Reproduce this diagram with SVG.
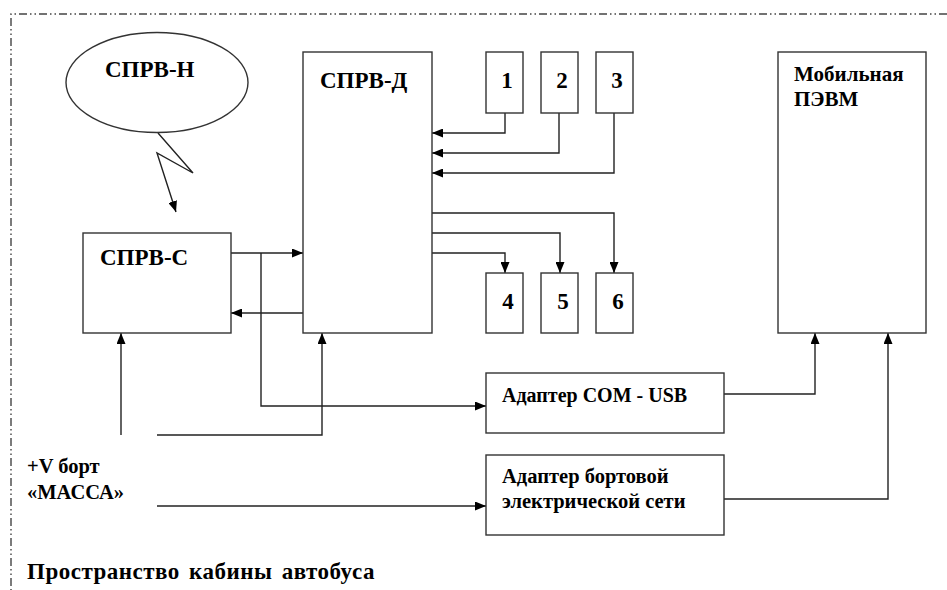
<svg xmlns="http://www.w3.org/2000/svg" width="947" height="590" viewBox="0 0 947 590">
<defs>
<marker id="ah" markerUnits="userSpaceOnUse" markerWidth="11" markerHeight="9" refX="11" refY="4.5" orient="auto">
<path d="M0,0 L11,4.5 L0,9 z" fill="#000"/>
</marker>
<style>
.b{fill:#fff;stroke:#333;stroke-width:1.4}
.t{font-weight:bold;fill:#000}
.c{fill:none;stroke:#222;stroke-width:1.4}
.a{marker-end:url(#ah)}
.frame{fill:none;stroke:#444;stroke-width:1.4;stroke-dasharray:8 3 1.5 3 1.5 3}
</style>
</defs>
<rect width="947" height="590" fill="#fff"/>
<polyline class="frame" points="947,14 11,14 11,590"/>

<g id="connectors">
<polyline class="c a" points="158,133 193,173 157,153 176,212"/>
<polyline class="c a" points="505,113 505,133 432,133"/>
<polyline class="c a" points="559,113 559,153 432,153"/>
<polyline class="c a" points="614,113 614,173 432,173"/>
<polyline class="c a" points="432,213 614,213 614,273"/>
<polyline class="c a" points="432,233 560,233 560,273"/>
<polyline class="c a" points="432,253 505,253 505,273"/>
<polyline class="c a" points="231,253 303,253"/>
<polyline class="c a" points="261,253 261,406 486,406"/>
<polyline class="c a" points="303,313 231,313"/>
<polyline class="c a" points="121,435 121,333"/>
<polyline class="c a" points="157,435 322,435 322,333"/>
<polyline class="c a" points="724,394 815,394 815,333"/>
<polyline class="c a" points="724,499 888,499 888,333"/>
<polyline class="c a" points="157,506 486,506"/>
</g>

<g font-family="'Times New Roman', 'Liberation Serif', Tinos, 'DejaVu Serif', serif">
<g id="sprv-n">
<ellipse class="b" cx="157" cy="82.5" rx="91" ry="50"/>
<text class="t" x="105" y="77" font-size="23">СПРВ-Н</text>
</g>
<g id="sprv-d">
<rect class="b" x="303" y="52" width="129" height="281"/>
<text class="t" x="320" y="88" font-size="23">СПРВ-Д</text>
</g>
<g id="sprv-c">
<rect class="b" x="83" y="233" width="148" height="100"/>
<text class="t" x="100" y="265" font-size="23">СПРВ-С</text>
</g>
<g id="n1"><rect class="b" x="486" y="52" width="37" height="61"/><text class="t" x="507" y="88" font-size="23" text-anchor="middle">1</text></g>
<g id="n2"><rect class="b" x="541" y="52" width="37" height="61"/><text class="t" x="562" y="88" font-size="23" text-anchor="middle">2</text></g>
<g id="n3"><rect class="b" x="596" y="52" width="37" height="61"/><text class="t" x="617" y="88" font-size="23" text-anchor="middle">3</text></g>
<g id="n4"><rect class="b" x="486" y="273" width="37" height="60"/><text class="t" x="508" y="309" font-size="23" text-anchor="middle">4</text></g>
<g id="n5"><rect class="b" x="541" y="273" width="37" height="60"/><text class="t" x="563" y="309" font-size="23" text-anchor="middle">5</text></g>
<g id="n6"><rect class="b" x="596" y="273" width="37" height="60"/><text class="t" x="618" y="309" font-size="23" text-anchor="middle">6</text></g>
<g id="pc">
<rect class="b" x="778" y="52" width="148" height="281"/>
<text class="t" x="794" y="81" font-size="21">Мобильная</text>
<text class="t" x="794" y="106" font-size="21">ПЭВМ</text>
</g>
<g id="adapter-usb">
<rect class="b" x="486" y="373" width="238" height="60"/>
<text class="t" x="502" y="402" font-size="20">Адаптер COM - USB</text>
</g>
<g id="adapter-power">
<rect class="b" x="486" y="455" width="238" height="80"/>
<text class="t" x="502" y="483" font-size="20.5">Адаптер бортовой</text>
<text class="t" x="502" y="508" font-size="20.5">электрической сети</text>
</g>
<g id="power-label">
<text class="t" x="27" y="473" font-size="20.5">+V борт</text>
<text class="t" x="27" y="499" font-size="20.5">«МАССА»</text>
</g>
<text class="t" x="27" y="579" font-size="23" letter-spacing="0.5" word-spacing="3">Пространство кабины автобуса</text>
</g>
</svg>
